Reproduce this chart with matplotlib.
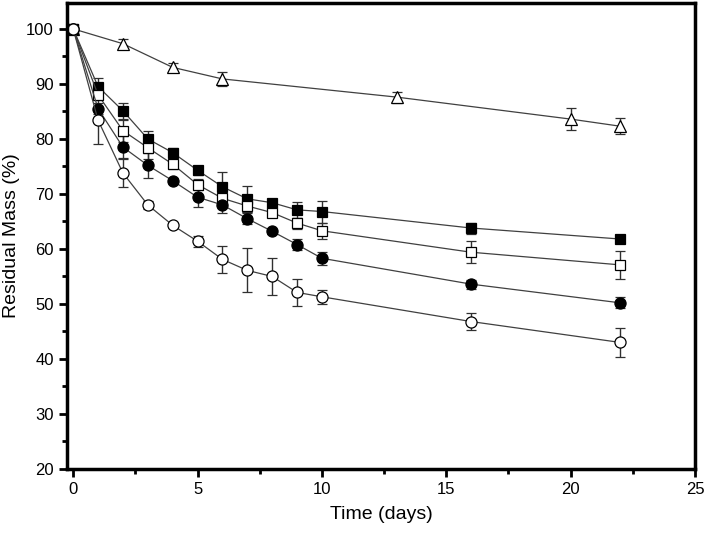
import matplotlib
matplotlib.use("Agg")
from matplotlib import pyplot as plt
from matplotlib.ticker import MultipleLocator

plt.rcParams['font.family'] = ['Liberation Sans', 'DejaVu Sans']

days = [0, 1, 2, 3, 4, 5, 6, 7, 8, 9, 10, 16, 22]

sq_fill = [100, 89.5, 85.1, 80.0, 77.5, 74.3, 71.3, 69.1, 68.4, 67.1, 66.8, 63.8, 61.8]
sq_fill_err = [0.4, 1.5, 1.5, 1.5, 0.8, 0.8, 2.6, 2.3, 0.5, 1.5, 2.0, 1.0, 0.8]

sq_open = [100, 88.0, 81.5, 78.4, 75.4, 71.7, 69.2, 67.8, 66.6, 64.7, 63.3, 59.4, 57.1]
sq_open_err = [0.4, 1.0, 2.0, 2.0, 0.8, 1.0, 1.5, 1.0, 0.8, 1.0, 1.5, 2.0, 2.5]

ci_fill = [100, 85.5, 78.5, 75.2, 72.4, 69.4, 68.0, 65.5, 63.2, 60.8, 58.3, 53.6, 50.2]
ci_fill_err = [0.4, 1.0, 2.0, 2.3, 0.5, 1.8, 1.5, 1.0, 0.5, 1.0, 1.2, 0.8, 1.0]

ci_open = [100, 83.4, 73.8, 68.0, 64.3, 61.4, 58.1, 56.1, 55.0, 52.1, 51.3, 46.8, 43.0]
ci_open_err = [0.4, 4.4, 2.5, 0.8, 0.5, 1.0, 2.5, 4.0, 3.4, 2.5, 1.3, 1.5, 2.7]

tri_days = [0, 2, 4, 6, 13, 20, 22]
tri = [100, 97.3, 93.0, 90.9, 87.6, 83.6, 82.3]
tri_err = [0.5, 0.8, 0.8, 1.2, 1.0, 2.0, 1.5]

fig = plt.figure(figsize=(7.08, 5.36), dpi=100)
ax = fig.add_axes([0.0946, 0.125, 0.887, 0.8694])

common = dict(color='#404040', lw=0.9, capsize=3.5, elinewidth=1.0,
              capthick=1.0, ecolor='#303030', markeredgewidth=0.9)

ax.errorbar(tri_days, tri, yerr=tri_err, marker='^', mfc='white', mec='black', ms=9, **common)
ax.errorbar(days, sq_fill, yerr=sq_fill_err, marker='s', mfc='black', mec='black', ms=7, **common)
ax.errorbar(days, sq_open, yerr=sq_open_err, marker='s', mfc='white', mec='black', ms=7, **common)
ax.errorbar(days, ci_fill, yerr=ci_fill_err, marker='o', mfc='black', mec='black', ms=8, **common)
ax.errorbar(days, ci_open, yerr=ci_open_err, marker='o', mfc='white', mec='black', ms=8, **common)

ax.set_xlim(-0.25, 25)
ax.set_ylim(20, 104.7)
ax.xaxis.set_major_locator(MultipleLocator(5))
ax.xaxis.set_minor_locator(MultipleLocator(2.5))
ax.yaxis.set_major_locator(MultipleLocator(10))
ax.yaxis.set_minor_locator(MultipleLocator(5))

for s in ax.spines.values():
    s.set_linewidth(2.5)
ax.tick_params(which='major', direction='out', length=6, width=2, labelsize=12)
ax.tick_params(which='minor', direction='out', length=3.5, width=2)

ax.set_xlabel('Time (days)', fontsize=14, labelpad=6)
ax.set_ylabel('Residual Mass (%)', fontsize=14, labelpad=4)

fig.savefig('out.png', dpi=100)
